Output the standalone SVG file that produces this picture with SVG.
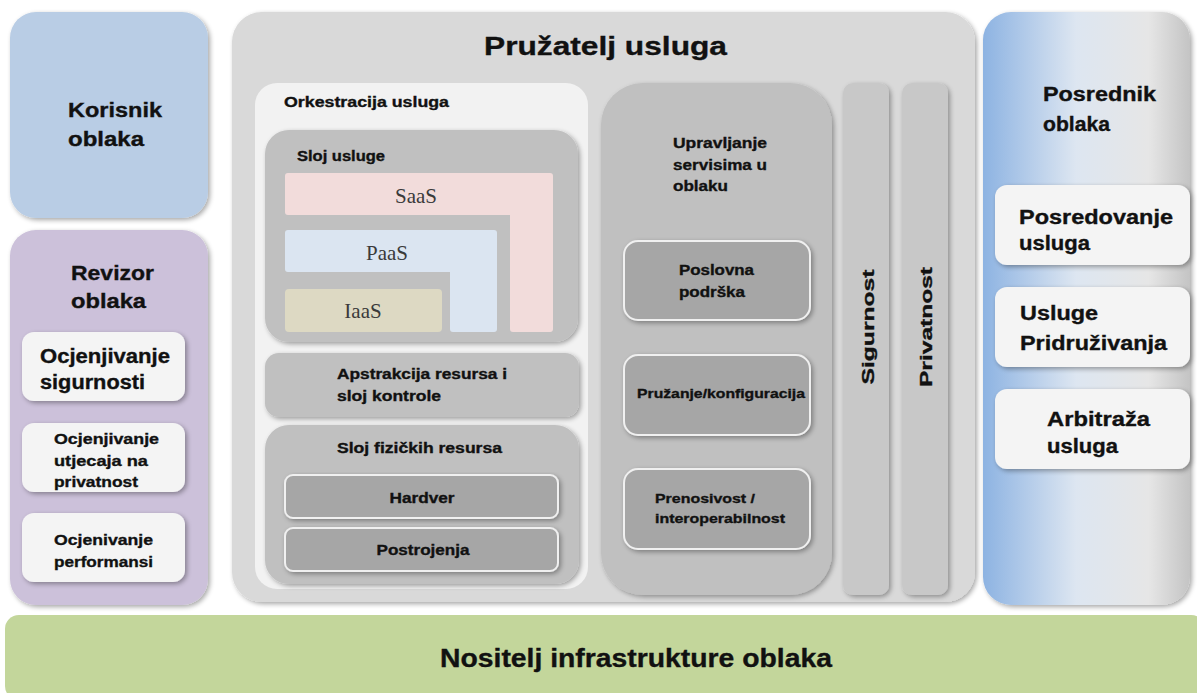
<svg xmlns="http://www.w3.org/2000/svg" width="1197" height="693" viewBox="0 0 1197 693">
<defs>
<filter id="sh" x="-10%" y="-10%" width="130%" height="130%">
<feGaussianBlur in="SourceAlpha" stdDeviation="2.5"/>
<feOffset dx="2" dy="2" result="b"/>
<feComponentTransfer><feFuncA type="linear" slope="0.35"/></feComponentTransfer>
<feMerge><feMergeNode/><feMergeNode in="SourceGraphic"/></feMerge>
</filter>
<linearGradient id="gBroker" x1="0" y1="0" x2="1" y2="0">
<stop offset="0" stop-color="#8db3e2"/>
<stop offset="0.45" stop-color="#dde6f1"/>
<stop offset="0.8" stop-color="#e6e6e6"/>
<stop offset="1" stop-color="#c4c4c4"/>
</linearGradient>
</defs>
<style>
text{font-family:"Liberation Sans",Arial,sans-serif;font-weight:bold;fill:#111;stroke:#111;stroke-width:0.35}
.serif{font-family:"Liberation Serif","Times New Roman",serif;font-weight:normal;fill:#3a3a3a;stroke:none}
.sub{fill:#f4f4f4}
.dk{fill:#a6a6a6;stroke:#f0f0f0;stroke-width:2}
.mid{fill:#c0c0c0}
</style>
<rect width="1197" height="693" fill="#ffffff"/>

<g id="korisnik">
<rect x="10" y="12" width="198" height="206" rx="26" fill="#b9cde5" filter="url(#sh)"/>
<text x="68" y="117" font-size="20" textLength="94" lengthAdjust="spacingAndGlyphs">Korisnik</text>
<text x="68" y="146" font-size="20" textLength="76" lengthAdjust="spacingAndGlyphs">oblaka</text>
</g>

<g id="revizor">
<rect x="10" y="230" width="198" height="375" rx="26" fill="#ccc1da" filter="url(#sh)"/>
<text x="71" y="280" font-size="20" textLength="83" lengthAdjust="spacingAndGlyphs">Revizor</text>
<text x="71" y="308" font-size="20" textLength="75" lengthAdjust="spacingAndGlyphs">oblaka</text>
<g id="ocj-sig">
<rect x="22" y="332" width="163" height="69" rx="12" class="sub" filter="url(#sh)"/>
<text x="40" y="363" font-size="20" textLength="130" lengthAdjust="spacingAndGlyphs">Ocjenjivanje</text>
<text x="40" y="389" font-size="20" textLength="105" lengthAdjust="spacingAndGlyphs">sigurnosti</text>
</g>
<g id="ocj-priv">
<rect x="22" y="423" width="163" height="69" rx="12" class="sub" filter="url(#sh)"/>
<text x="54" y="444" font-size="15" textLength="105" lengthAdjust="spacingAndGlyphs">Ocjenjivanje</text>
<text x="54" y="466" font-size="15" textLength="94" lengthAdjust="spacingAndGlyphs">utjecaja na</text>
<text x="54" y="487" font-size="15" textLength="84" lengthAdjust="spacingAndGlyphs">privatnost</text>
</g>
<g id="ocj-perf">
<rect x="22" y="513" width="163" height="69" rx="12" class="sub" filter="url(#sh)"/>
<text x="54" y="545" font-size="15" textLength="99" lengthAdjust="spacingAndGlyphs">Ocjenivanje</text>
<text x="54" y="567" font-size="15" textLength="99" lengthAdjust="spacingAndGlyphs">performansi</text>
</g>
</g>

<g id="pruzatelj">
<rect x="232" y="12" width="743" height="590" rx="30" fill="#d9d9d9" filter="url(#sh)"/>
<text x="484" y="55" font-size="26" textLength="243" lengthAdjust="spacingAndGlyphs">Pružatelj usluga</text>

<g id="orkestracija">
<rect x="255" y="83" width="333" height="506" rx="22" fill="#f2f2f2"/>
<text x="284" y="107" font-size="14.5" textLength="165" lengthAdjust="spacingAndGlyphs">Orkestracija usluga</text>

<g id="sloj-usluge">
<rect x="265" y="130" width="313" height="212" rx="24" class="mid" filter="url(#sh)"/>
<text x="297" y="161" font-size="14.5" textLength="88" lengthAdjust="spacingAndGlyphs">Sloj usluge</text>
<path d="M288,173 H550 a3,3 0 0 1 3,3 V329 a3,3 0 0 1 -3,3 H513 a3,3 0 0 1 -3,-3 V215 H288 a3,3 0 0 1 -3,-3 V176 a3,3 0 0 1 3,-3 Z" fill="#f2dcdb"/>
<text x="416" y="203" font-size="21" class="serif" text-anchor="middle">SaaS</text>
<path d="M288,230 H494 a3,3 0 0 1 3,3 V329 a3,3 0 0 1 -3,3 H453 a3,3 0 0 1 -3,-3 V272 H288 a3,3 0 0 1 -3,-3 V233 a3,3 0 0 1 3,-3 Z" fill="#dbe5f1"/>
<text x="387" y="260" font-size="21" class="serif" text-anchor="middle">PaaS</text>
<rect x="285" y="289" width="157" height="43" rx="4" fill="#ddd9c3"/>
<text x="363" y="318" font-size="21" class="serif" text-anchor="middle">IaaS</text>
</g>

<g id="apstrakcija">
<rect x="265" y="353" width="314" height="64" rx="14" class="mid" filter="url(#sh)"/>
<text x="337" y="379" font-size="14.5" textLength="170" lengthAdjust="spacingAndGlyphs">Apstrakcija resursa i</text>
<text x="337" y="401" font-size="14.5" textLength="104" lengthAdjust="spacingAndGlyphs">sloj kontrole</text>
</g>

<g id="fizicki">
<rect x="265" y="425" width="314" height="159" rx="24" class="mid" filter="url(#sh)"/>
<text x="337" y="453" font-size="14.5" textLength="165" lengthAdjust="spacingAndGlyphs">Sloj fizičkih resursa</text>
<g id="hardver">
<rect x="285" y="475" width="273" height="43" rx="8" class="dk" filter="url(#sh)"/>
<text x="422" y="503" font-size="14.5" text-anchor="middle" textLength="65" lengthAdjust="spacingAndGlyphs">Hardver</text>
</g>
<g id="postrojenja">
<rect x="285" y="528" width="273" height="43" rx="8" class="dk" filter="url(#sh)"/>
<text x="423" y="555" font-size="14.5" text-anchor="middle" textLength="93" lengthAdjust="spacingAndGlyphs">Postrojenja</text>
</g>
</g>
</g>

<g id="upravljanje">
<rect x="601" y="83" width="231" height="512" rx="42" class="mid" filter="url(#sh)"/>
<text x="673" y="148" font-size="14.5" textLength="94" lengthAdjust="spacingAndGlyphs">Upravljanje</text>
<text x="673" y="170" font-size="14.5" textLength="94" lengthAdjust="spacingAndGlyphs">servisima u</text>
<text x="673" y="191" font-size="14.5" textLength="55" lengthAdjust="spacingAndGlyphs">oblaku</text>
<g id="poslovna">
<rect x="624" y="241" width="186" height="79" rx="14" class="dk" filter="url(#sh)"/>
<text x="679" y="275" font-size="14.5" textLength="75" lengthAdjust="spacingAndGlyphs">Poslovna</text>
<text x="679" y="297" font-size="14.5" textLength="66" lengthAdjust="spacingAndGlyphs">podrška</text>
</g>
<g id="pruzanje">
<rect x="624" y="355" width="186" height="80" rx="14" class="dk" filter="url(#sh)"/>
<text x="637" y="398" font-size="13" textLength="168" lengthAdjust="spacingAndGlyphs">Pružanje/konfiguracija</text>
</g>
<g id="prenosivost">
<rect x="624" y="469" width="186" height="80" rx="14" class="dk" filter="url(#sh)"/>
<text x="655" y="503" font-size="13.5" textLength="100" lengthAdjust="spacingAndGlyphs">Prenosivost /</text>
<text x="655" y="523" font-size="13.5" textLength="130" lengthAdjust="spacingAndGlyphs">interoperabilnost</text>
</g>
</g>

<g id="sigurnost">
<rect x="843" y="83" width="46" height="512" rx="10" fill="#c8c8c8" filter="url(#sh)"/>
<text transform="translate(874,327) rotate(-90)" font-size="17" text-anchor="middle" textLength="115" lengthAdjust="spacingAndGlyphs">Sigurnost</text>
</g>
<g id="privatnost">
<rect x="902" y="83" width="46" height="512" rx="10" fill="#c8c8c8" filter="url(#sh)"/>
<text transform="translate(932,327) rotate(-90)" font-size="17" text-anchor="middle" textLength="120" lengthAdjust="spacingAndGlyphs">Privatnost</text>
</g>
</g>

<g id="posrednik">
<rect x="983" y="12" width="207" height="593" rx="28" fill="url(#gBroker)" filter="url(#sh)"/>
<text x="1043" y="101" font-size="20" textLength="113" lengthAdjust="spacingAndGlyphs">Posrednik</text>
<text x="1043" y="131" font-size="20" textLength="67" lengthAdjust="spacingAndGlyphs">oblaka</text>
<g id="posredovanje">
<rect x="995" y="185" width="195" height="80" rx="12" class="sub" filter="url(#sh)"/>
<text x="1019" y="224" font-size="20" textLength="154" lengthAdjust="spacingAndGlyphs">Posredovanje</text>
<text x="1019" y="250" font-size="20" textLength="71" lengthAdjust="spacingAndGlyphs">usluga</text>
</g>
<g id="pridruzivanje">
<rect x="995" y="287" width="195" height="80" rx="12" class="sub" filter="url(#sh)"/>
<text x="1020" y="320" font-size="20" textLength="78" lengthAdjust="spacingAndGlyphs">Usluge</text>
<text x="1020" y="350" font-size="20" textLength="147" lengthAdjust="spacingAndGlyphs">Pridruživanja</text>
</g>
<g id="arbitraza">
<rect x="995" y="389" width="195" height="80" rx="12" class="sub" filter="url(#sh)"/>
<text x="1047" y="426" font-size="20" textLength="103" lengthAdjust="spacingAndGlyphs">Arbitraža</text>
<text x="1047" y="453" font-size="20" textLength="71" lengthAdjust="spacingAndGlyphs">usluga</text>
</g>
</g>

<g id="nositelj">
<rect x="5" y="615" width="1200" height="85" rx="14" fill="#c3d69b"/>
<text x="440" y="667" font-size="25" textLength="392" lengthAdjust="spacingAndGlyphs">Nositelj infrastrukture oblaka</text>
</g>

<g id="connectors"/>
</svg>
